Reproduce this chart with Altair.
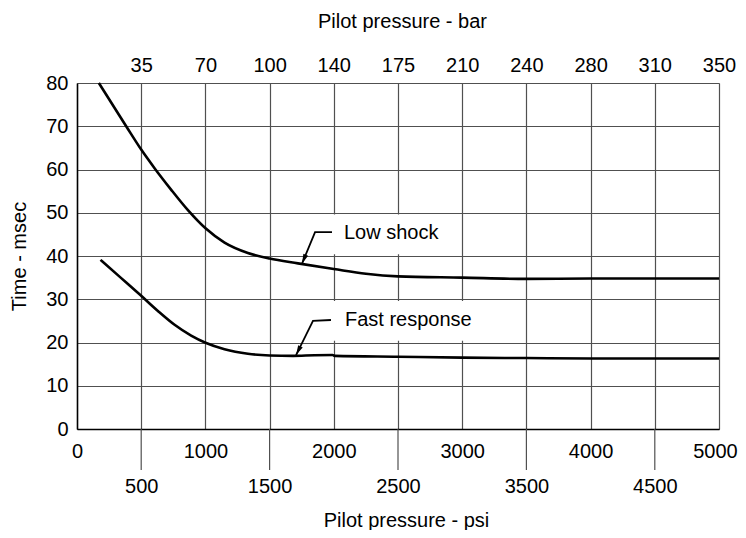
import altair as alt
import pandas as pd

# ---- data ----
psi_low = [170, 383, 500, 604, 734, 864, 1001, 1149, 1331, 1500, 1721, 2000, 2250, 2500, 3000, 3500, 4000, 4500, 5000]
ms_low = [80, 70, 64.6, 60.3, 55.3, 50.6, 46.4, 43.1, 40.7, 39.4, 38.3, 37.0, 35.9, 35.3, 35.0, 34.7, 34.8, 34.8, 34.8]

psi_fast = [183, 340, 500, 630, 760, 889, 1001, 1149, 1331, 1500, 1682, 1850, 1990, 2010, 2500, 3000, 3500, 4000, 4500, 5000]
ms_fast = [39.1, 35.0, 30.8, 27.3, 24.1, 21.6, 19.95, 18.45, 17.4, 17.0, 16.9, 17.05, 17.1, 16.9, 16.7, 16.5, 16.4, 16.3, 16.3, 16.3]

psi_ticks = [0, 500, 1000, 1500, 2000, 2500, 3000, 3500, 4000, 4500, 5000]
psi_odd_ticks = [500, 1500, 2500, 3500, 4500]
bar_ticks = [500, 1000, 1500, 2000, 2500, 3000, 3500, 4000, 4500, 5000]
bar_labels = ["35", "70", "100", "140", "175", "210", "240", "280", "310", "350"]
ms_ticks = [0, 10, 20, 30, 40, 50, 60, 70, 80]

ann_text = ["Low shock", "Fast response"]
ann_psi = [2079, 2087]
ann_ms = [45.3, 25.2]
box_psi0 = [1990, 1990]
box_psi1 = [2900, 3060]
box_ms0 = [40.4, 20.4]
box_ms1 = [49.6, 29.6]

leader_id = ["low", "low", "low", "fast", "fast", "fast"]
leader_ord = [0, 1, 2, 0, 1, 2]
leader_psi = [1986, 1854, 1752, 1978, 1838, 1706]
leader_ms = [45.5, 45.5, 38.2, 25.2, 25.0, 17.1]
tip_psi = [1752, 1706]
tip_ms = [38.2, 17.1]
tip_angle = [203, 207]

FONT = "Liberation Sans"
FS = 20
GRID = "#505050"

low_df = pd.DataFrame({"psi": psi_low, "ms": ms_low})
fast_df = pd.DataFrame({"psi": psi_fast, "ms": ms_fast})
odd_df = pd.DataFrame({"psi": psi_odd_ticks})
ann_df = pd.DataFrame({"text": ann_text, "psi": ann_psi, "ms": ann_ms})
box_df = pd.DataFrame({"p0": box_psi0, "p1": box_psi1, "m0": box_ms0, "m1": box_ms1})
lead_df = pd.DataFrame({"id": leader_id, "ord": leader_ord, "psi": leader_psi, "ms": leader_ms})
tip_df = pd.DataFrame({"psi": tip_psi, "ms": tip_ms, "ang": tip_angle})

xscale = alt.Scale(domain=[0, 5000], nice=False, zero=False)
yscale = alt.Scale(domain=[0, 80], nice=False)

label_arr = "[" + ",".join("'" + s + "'" for s in bar_labels) + "]"

x_bottom_axis = alt.Axis(
    orient="bottom", values=psi_ticks, format="d", grid=True,
    gridColor=GRID, gridWidth=1.2, ticks=False, tickSize=0,
    domainColor="black", domainWidth=1.5,
    labelFont=FONT, labelFontSize=FS, labelColor="black",
    labelBaseline="alphabetic", labelFlush=False, labelOverlap=False,
    labelPadding={"condition": {"test": "datum.value % 1000 != 0", "value": 63}, "value": 28},
    labelOffset={"condition": {"test": "datum.value == 5000", "value": -4}, "value": 0},
    title="Pilot pressure - psi", titleFont=FONT, titleFontSize=FS,
    titleFontWeight="normal", titleColor="black",
    titleX=329, titleY=97, titleBaseline="alphabetic", titleAlign="center",
)

y_axis = alt.Axis(
    orient="left", values=ms_ticks, grid=True, gridColor=GRID, gridWidth=1.2,
    ticks=False, tickSize=0, domainColor="black", domainWidth=1.5,
    labelFont=FONT, labelFontSize=FS, labelColor="black", labelPadding=9,
    labelFlush=False, labelOverlap=False,
    title="Time - msec", titleFont=FONT, titleFontSize=FS, titleFontWeight="normal",
    titleColor="black", titleX=-52, titleY=173, titleAngle=270,
    titleBaseline="alphabetic", titleAlign="center",
)


def Y(field):
    return alt.Y(field, scale=yscale, axis=y_axis)


def Xn(field):
    return alt.X(field, scale=xscale, axis=None)


low = alt.Chart(low_df).mark_line(color="black", strokeWidth=2.6, interpolate="monotone").encode(
    x=alt.X("psi:Q", scale=xscale, axis=x_bottom_axis), y=Y("ms:Q")
)

fast = alt.Chart(fast_df).mark_line(color="black", strokeWidth=2.6, interpolate="monotone").encode(
    x=Xn("psi:Q"), y=Y("ms:Q"),
)

ext = alt.Chart(odd_df).mark_rule(color=GRID, strokeWidth=1.2).encode(
    x=alt.X(
        "psi:Q", scale=xscale,
        axis=alt.Axis(
            orient="top", values=bar_ticks, grid=False, ticks=False, tickSize=0,
            domain=False, labelExpr=label_arr + "[round(datum.value/500)-1]",
            labelFont=FONT, labelFontSize=FS, labelColor="black",
            labelBaseline="alphabetic", labelPadding=12, labelFlush=False, labelOverlap=False,
            title="Pilot pressure - bar", titleFont=FONT, titleFontSize=FS,
            titleFontWeight="normal", titleColor="black",
            titleX=325, titleY=-56, titleBaseline="alphabetic", titleAlign="center",
        ),
    ),
    y=alt.value(346),
    y2=alt.value(387),
)

boxes = alt.Chart(box_df).mark_rect(color="white").encode(
    x=Xn("p0:Q"), x2="p1:Q", y=Y("m0:Q"), y2="m1:Q",
)

texts = alt.Chart(ann_df).mark_text(
    align="left", baseline="middle", font=FONT, fontSize=FS, color="black"
).encode(x=Xn("psi:Q"), y=Y("ms:Q"), text="text:N")

leaders = alt.Chart(lead_df).mark_line(color="black", strokeWidth=1.8).encode(
    x=Xn("psi:Q"), y=Y("ms:Q"), detail="id:N", order="ord:Q",
)

tips = alt.Chart(tip_df).mark_point(
    shape="M0,0L-0.45,1.7L0.45,1.7Z", filled=True, color="black", size=130, opacity=1
).encode(
    x=Xn("psi:Q"), y=Y("ms:Q"), angle=alt.Angle("ang:Q", scale=None),
)

chart = alt.layer(ext, boxes, low, fast, leaders, tips, texts).resolve_axis(
    x="independent"
).properties(
    width=642, height=346,
    autosize=alt.AutoSizeParams(type="none"),
    padding={"left": 69, "top": 75, "right": 19, "bottom": 101},
).configure_view(
    stroke="black", strokeWidth=1.5
).configure(background="white")

chart.save("out.html", embed_options={"renderer": "svg", "actions": False})
